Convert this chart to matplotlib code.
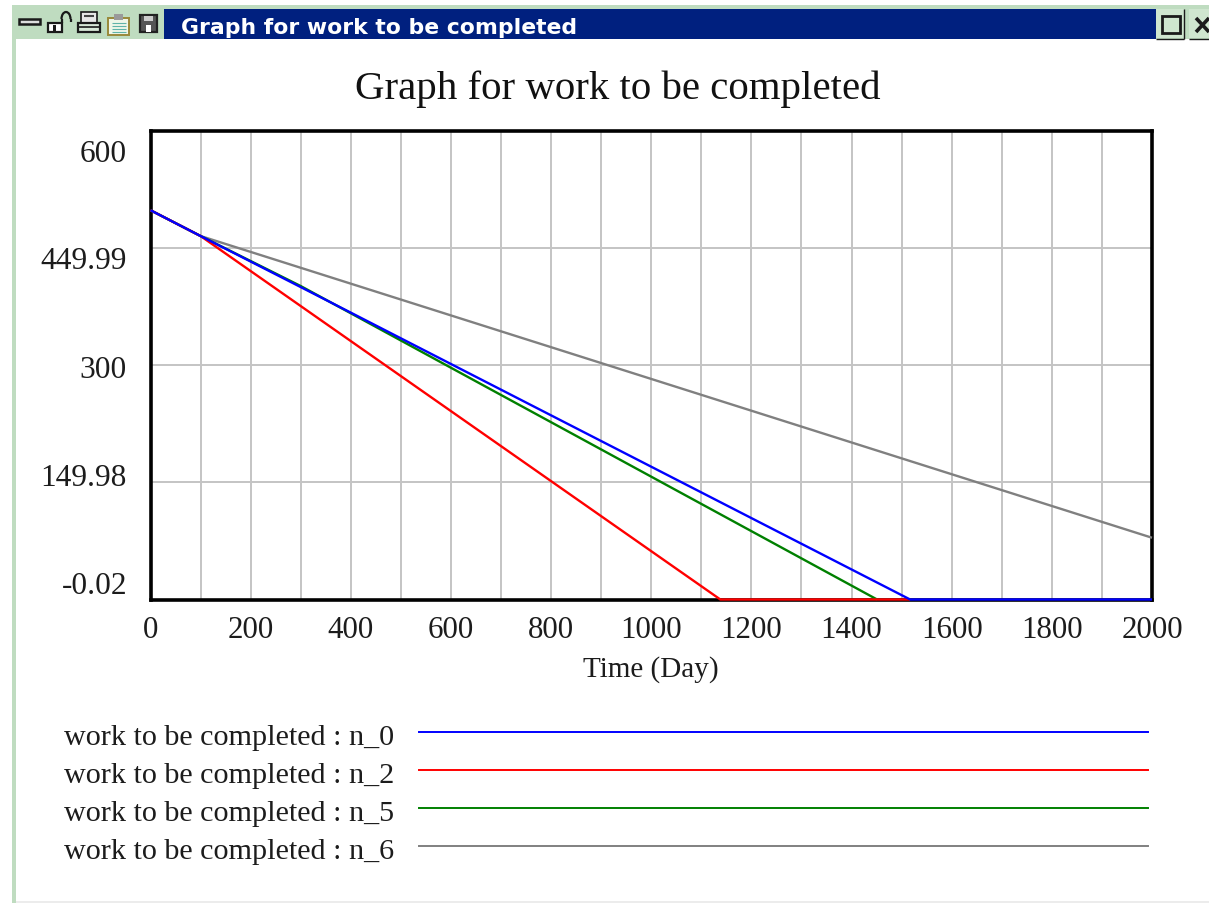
import matplotlib
matplotlib.use("Agg")
import matplotlib.pyplot as plt
from matplotlib.patches import Rectangle, Polygon, Arc

plt.rcParams['font.family'] = ['Liberation Serif', 'DejaVu Serif']

W, H = 1209, 904
TITLE = "Graph for work to be completed"
x_ticks = list(range(0, 2001, 200))
x_grid = list(range(0, 2001, 100))
y_grid = [0, 150, 300, 450, 600]
y_labels = ["600", "449.99", "300", "149.98", "-0.02"]
y_label_px = [154, 262, 370, 479, 587]

n0_t = [0, 100, 400, 1517, 2000]
n0_v = [498, 465, 367, 0, 0]
n2_t = [0, 100, 1138, 1517]
n2_v = [498, 465, 0, 0]
n5_t = [0, 100, 300, 1451]
n5_v = [498, 465, 401, 0]
n6_t = [0, 100, 2000]
n6_v = [498, 465, 79]
series = [("n_6", n6_t, n6_v, "#808080"), ("n_5", n5_t, n5_v, "#008000"),
          ("n_2", n2_t, n2_v, "#ff0000"), ("n_0", n0_t, n0_v, "#0000ff")]
legend_order = ["n_0", "n_2", "n_5", "n_6"]
legend_px = [733, 771, 809, 847]

fig = plt.figure(figsize=(W/100, H/100), dpi=100, facecolor="white")

def rect(x0, y0, x1, y1, color):
    fig.add_artist(Rectangle((x0/W, 1-y1/H), (x1-x0)/W, (y1-y0)/H, transform=fig.transFigure,
                             facecolor=color, edgecolor="none"))

def box(x0, y0, x1, y1, lw=1.4, fc="none", ec="#1a1a1a"):
    fig.add_artist(Rectangle((x0/W, 1-y1/H), (x1-x0)/W, (y1-y0)/H, transform=fig.transFigure,
                             facecolor=fc, edgecolor=ec, linewidth=lw))

def seg(x0, y0, x1, y1, color="#1a1a1a", lw=1.4):
    fig.add_artist(plt.Line2D([x0/W, x1/W], [1-y0/H, 1-y1/H], color=color, linewidth=lw,
                              solid_capstyle="butt"))

GREEN = "#bfdcc0"
rect(12, 6, W, 40, GREEN)
rect(12, 6, 16, H, GREEN)
rect(16, 902, W, H, "#ececec")
rect(164, 10, 1156, 40, "#00207f")
fig.text(181/W, 1-28/H, TITLE, color="white", family=["DejaVu Sans"], weight="bold",
         fontsize=15.75, va="center", ha="left")

# window buttons
rect(1156, 10, 1184, 39, "#cfe6cf")
seg(1184, 10, 1184, 40, lw=1)
seg(1156, 39.5, 1184, 39.5, lw=1)
box(1162, 17, 1180, 34, lw=2)
rect(1189, 10, W, 39, "#cfe6cf")
seg(1189, 39.5, W, 39.5, lw=1)
seg(1196, 19, 1209, 33, lw=2.6)
seg(1196, 33, 1209, 19, lw=2.6)

# toolbar icons
box(19, 20, 40, 25, lw=1.8, fc="#dddddd")
box(48, 24, 62, 33, lw=1.6, fc="white")
rect(53, 26, 56, 33, "#1a1a1a")
fig.add_artist(Arc((66/W, 1-20/H), 9/W, 14/H, theta1=0, theta2=180, transform=fig.transFigure,
                   color="#1a1a1a", linewidth=1.6))
seg(61.5, 20, 61.5, 24, lw=1.6)
seg(70.5, 20, 70.5, 23, lw=1.6)
box(81, 13, 97, 24, lw=1.2, fc="#e8e8e8")
seg(84, 17, 94, 17, color="#444444", lw=1.5)
box(78, 24, 100, 33, lw=1.6, fc="#d8e8d8")
seg(78, 28, 100, 28, lw=1.2)
box(108, 19, 129, 36, lw=1.4, fc="#eef6e8", ec="#99893a")
rect(114, 15, 123, 21, "#9a9a9a")
for yy in (24, 27, 30, 33):
    seg(112, yy, 126, yy, color="#5fb3a8", lw=0.8)
box(140, 16, 157, 33, lw=1.6, fc="#555555", ec="#222222")
rect(144, 17, 153, 22, "#cccccc")
rect(146, 26, 151, 33, "white")

ax = fig.add_axes([150.5/W, 1-600.5/H, (1152-150.5)/W, (600.5-131.5)/H])
ax.set_xlim(0, 2000)
ax.set_ylim(0, 600)
ax.set_xticks(x_ticks)
ax.set_xticks(x_grid, minor=True)
ax.set_yticks(y_grid)
ax.set_yticklabels([])
ax.tick_params(axis="both", which="both", length=0)
ax.tick_params(axis="x", labelsize=22.3, pad=11, colors="#1c1c1c")
ax.grid(True, which="both", color="#c4c4c4", linewidth=1.4)
ax.set_axisbelow(True)
for s in ax.spines.values():
    s.set_linewidth(2.6)
    s.set_color("black")
ax.set_xlabel("Time (Day)", fontsize=21, color="#1c1c1c", labelpad=8)

for name, t, v, c in series:
    ax.plot(t, v, color=c, linewidth=1.7, clip_on=False, zorder=5, solid_capstyle="butt")

fig.text(617.5/W, 1-89/H, TITLE, fontsize=29.4, ha="center", va="center", color="#111111")
for lab, py in zip(y_labels, y_label_px):
    fig.text(127/W, 1-py/H, lab, fontsize=22.6, ha="right", va="center", color="#1c1c1c")

colors = {n: c for n, _, _, c in series}
for name, py in zip(legend_order, legend_px):
    fig.text(394/W, 1-(py+5.5)/H, f"work to be completed : {name}", fontsize=21.7, ha="right",
             va="center", color="#1c1c1c")
    fig.add_artist(plt.Line2D([419/W, 1148/W], [1-py/H, 1-py/H], color=colors[name], linewidth=1.4))

fig.savefig("out.png", dpi=100)
